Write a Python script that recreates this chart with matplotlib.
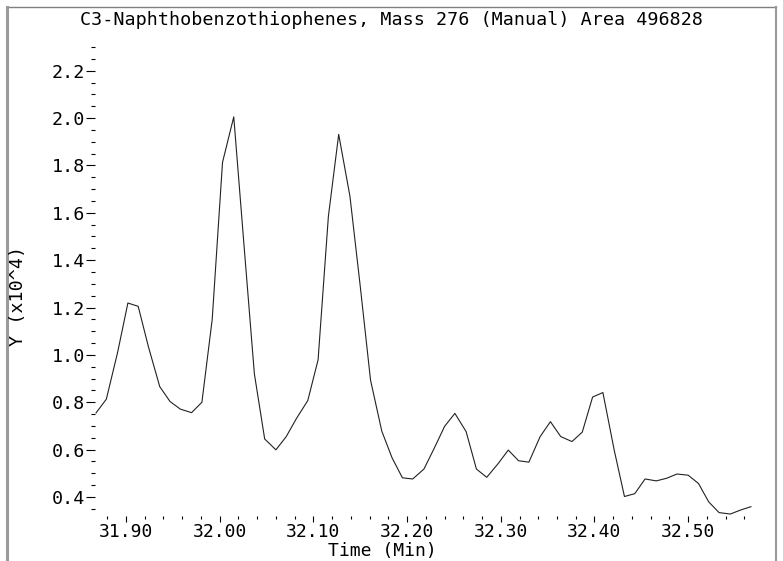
import matplotlib
matplotlib.use('Agg')
import matplotlib.pyplot as plt
from matplotlib.ticker import MultipleLocator, FormatStrFormatter
from matplotlib.lines import Line2D

# Chromatogram trace (time in min, response in x10^4)
time_min = [31.868, 31.879, 31.891, 31.902, 31.913, 31.924, 31.936, 31.947, 31.958, 31.970,
            31.981, 31.992, 32.003, 32.015, 32.026, 32.037, 32.048, 32.060, 32.071, 32.082,
            32.094, 32.105, 32.116, 32.127, 32.139, 32.150, 32.161, 32.173, 32.184, 32.195,
            32.206, 32.218, 32.229, 32.240, 32.251, 32.263, 32.274, 32.285, 32.297, 32.308,
            32.319, 32.330, 32.342, 32.353, 32.364, 32.376, 32.387, 32.398, 32.409, 32.421,
            32.432, 32.443, 32.454, 32.466, 32.477, 32.488, 32.500, 32.511, 32.522, 32.533,
            32.545, 32.556, 32.567]
intensity = [0.755, 0.813, 1.010, 1.219, 1.205, 1.033, 0.866, 0.803, 0.771, 0.756,
             0.800, 1.150, 1.813, 2.005, 1.460, 0.920, 0.645, 0.599, 0.655, 0.732,
             0.807, 0.979, 1.585, 1.931, 1.670, 1.290, 0.893, 0.678, 0.565, 0.481,
             0.476, 0.518, 0.606, 0.698, 0.753, 0.676, 0.518, 0.483, 0.540, 0.598,
             0.553, 0.547, 0.655, 0.718, 0.655, 0.634, 0.674, 0.822, 0.841, 0.599,
             0.402, 0.414, 0.476, 0.468, 0.479, 0.497, 0.492, 0.457, 0.379, 0.334,
             0.328, 0.345, 0.359]

title = "C3-Naphthobenzothiophenes, Mass 276 (Manual) Area 496828"

plt.rcParams['font.family'] = ['DejaVu Sans Mono']
fs = 13.2

W, H = 783, 561
fig = plt.figure(figsize=(W / 100, H / 100), dpi=100)
ax = fig.add_axes([95 / W, 45 / H, 658 / W, 469 / H])
ax.plot(time_min, intensity, color='#222222', lw=0.8)

ax.set_xlim(31.8669, 32.5692)
ax.set_ylim(0.3197, 2.30)
for s in ax.spines.values():
    s.set_visible(False)

ax.xaxis.set_major_locator(MultipleLocator(0.1))
ax.xaxis.set_minor_locator(MultipleLocator(0.02))
ax.yaxis.set_major_locator(MultipleLocator(0.2))
ax.yaxis.set_minor_locator(MultipleLocator(0.05))
ax.xaxis.set_major_formatter(FormatStrFormatter('%.2f'))
ax.yaxis.set_major_formatter(FormatStrFormatter('%.1f'))
ax.tick_params(axis='x', which='major', direction='out', length=4.5, width=0.8, pad=0.3, labelsize=13)
ax.tick_params(axis='x', which='minor', direction='out', length=2.5, width=0.8)
ax.tick_params(axis='y', which='major', direction='out', length=6.5, width=0.8, pad=0.5, labelsize=fs)
ax.tick_params(axis='y', which='minor', direction='out', length=3, width=0.8)

fig.text(391 / W, 1 - 20 / H, title, ha='center', va='center', fontsize=fs)
fig.text(18 / W, 1 - 296 / H, "Y (x10^4)", rotation=90, ha='center', va='center', fontsize=fs)
fig.text(382 / W, 1 - 560.5 / H, "Time (Min)", ha='center', va='bottom', fontsize=13)

# gray frame around the plot
frame = '#9a9a9a'
fig.add_artist(Line2D([7.5 / W, 775.5 / W], [1 - 7 / H, 1 - 7 / H], color='#808080', lw=1.0))
fig.add_artist(Line2D([7.5 / W, 7.5 / W], [0, 1 - 7 / H], color=frame, lw=2.2))
fig.add_artist(Line2D([775.5 / W, 775.5 / W], [0, 1 - 7 / H], color=frame, lw=1.5))

fig.savefig('out.png', dpi=100)
